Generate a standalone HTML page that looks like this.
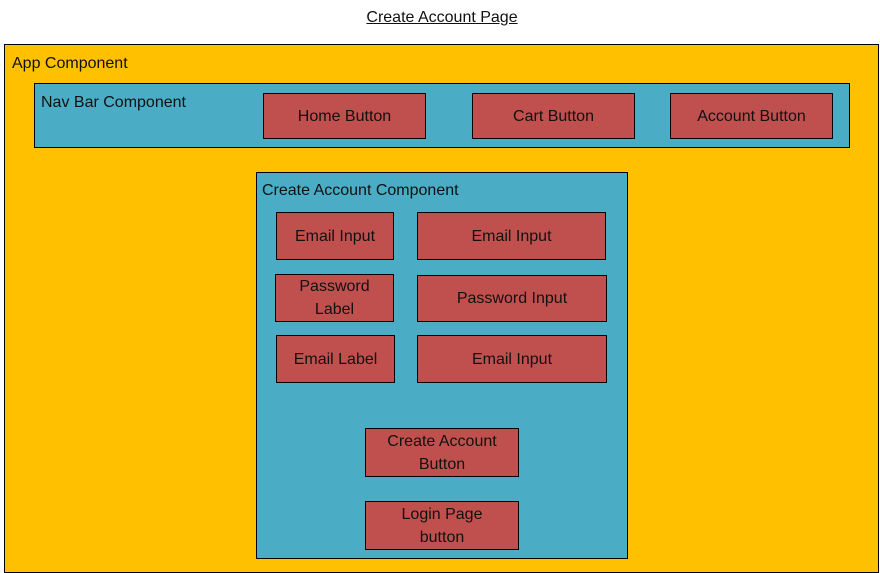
<!DOCTYPE html>
<html><head><meta charset="utf-8"><style>
body{margin:0;width:880px;height:573px;background:#fff;position:relative;font-family:"Liberation Sans",sans-serif;overflow:hidden}
.b{position:absolute;box-sizing:border-box;border:1px solid #000}
.r{background:#C0504D;display:flex;align-items:center;justify-content:center;text-align:center;font-size:16px;line-height:23px;color:#111}
.l{position:absolute;font-size:16px;color:#111}
</style></head><body>
<div class="l" style="left:0;width:884px;top:9px;text-align:center;text-decoration:underline">Create Account Page</div>
<div class="b" style="left:4px;top:44px;width:875px;height:529px;background:#FFC000"></div>
<div class="l" style="left:12px;top:55px">App Component</div>
<div class="b" style="left:34px;top:83px;width:816px;height:65px;background:#4BACC6"></div>
<div class="l" style="left:41px;top:94px">Nav Bar Component</div>
<div class="b r" style="left:263px;top:93px;width:163px;height:46px">Home Button</div>
<div class="b r" style="left:472px;top:93px;width:163px;height:46px">Cart Button</div>
<div class="b r" style="left:670px;top:93px;width:163px;height:46px">Account Button</div>
<div class="b" style="left:256px;top:172px;width:372px;height:387px;background:#4BACC6"></div>
<div class="l" style="left:262px;top:182px">Create Account Component</div>
<div class="b r" style="left:276px;top:212px;width:118px;height:48px">Email Input</div>
<div class="b r" style="left:417px;top:212px;width:189px;height:48px">Email Input</div>
<div class="b r" style="left:275px;top:274px;width:119px;height:48px">Password<br>Label</div>
<div class="b r" style="left:417px;top:275px;width:190px;height:47px">Password Input</div>
<div class="b r" style="left:276px;top:335px;width:119px;height:48px">Email Label</div>
<div class="b r" style="left:417px;top:335px;width:190px;height:48px">Email Input</div>
<div class="b r" style="left:365px;top:428px;width:154px;height:49px">Create Account<br>Button</div>
<div class="b r" style="left:365px;top:501px;width:154px;height:49px">Login Page<br>button</div>
</body></html>
